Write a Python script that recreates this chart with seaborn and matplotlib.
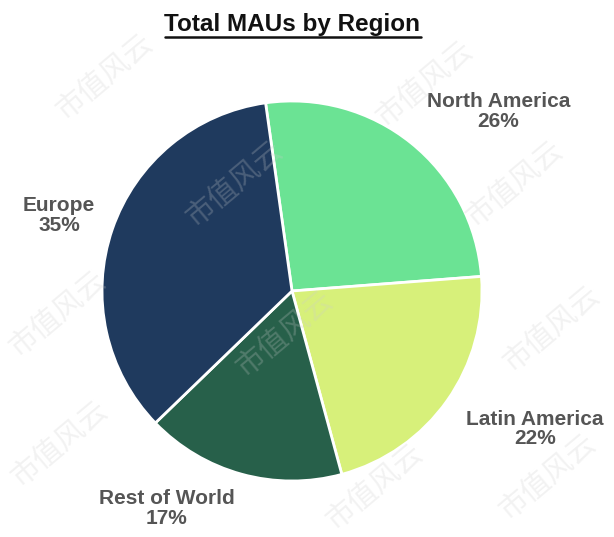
import numpy as np
import matplotlib
matplotlib.use('Agg')
import matplotlib.pyplot as plt
import seaborn as sns
from matplotlib.lines import Line2D

# Data ------------------------------------------------------------------------
regions = ['North America', 'Latin America', 'Rest of World', 'Europe']
shares = [26, 22, 17, 35]
colors = ['#6be394', '#d7f07a', '#27604a', '#1f3a5e']

# label placement (polar angle in degrees, radius in pie units)
label_polar = [(41, 1.44), (-29.6, 1.47), (-120, 1.32), (162, 1.29)]

sns.set_theme(style='white')
plt.rcParams['font.family'] = ['Liberation Sans', 'DejaVu Sans']

W, H = 614, 537
fig = plt.figure(figsize=(W / 100, H / 100), dpi=100)
ax = fig.add_axes([0, 0, 1, 1])

cx, cy, R = 292, 291, 190  # pixel centre and radius of the pie

wedges, _ = ax.pie(shares, colors=colors, startangle=98, counterclock=False,
                   wedgeprops=dict(edgecolor='white', linewidth=2))

ax.set_xlim(-cx / R, (W - cx) / R)
ax.set_ylim(-(H - cy) / R, cy / R)
ax.set_aspect('auto')
ax.axis('off')

for name, pct, (ang, r) in zip(regions, shares, label_polar):
    a = np.deg2rad(ang)
    ax.text(r * np.cos(a), r * np.sin(a), f'{name}\n{pct}%', ha='center',
            va='center', fontsize=15, fontweight='bold', color='#555555',
            linespacing=1.05)

# title with underline
fig.text(cx / W, 1 - 24 / H, 'Total MAUs by Region', ha='center', va='center',
         fontsize=17.5, fontweight='bold', color='#111111')
fig.add_artist(Line2D([165 / W, 421 / W], [1 - 37 / H, 1 - 37 / H],
                      color='#111111', linewidth=1.8))

# watermark
wm = [(105, 78), (425, 85), (235, 185), (515, 185), (58, 315),
      (285, 335), (552, 330), (60, 445), (375, 488), (548, 478)]
for x, y in wm:
    fig.text(x / W, 1 - y / H, '市值风云', ha='center', va='center',
             fontsize=21, color='#cccccc', alpha=0.25, rotation=40,
             family=['Noto Sans CJK SC', 'DejaVu Sans'], fontweight='light',
             zorder=10)

fig.savefig('out.png', dpi=100, facecolor='white')
